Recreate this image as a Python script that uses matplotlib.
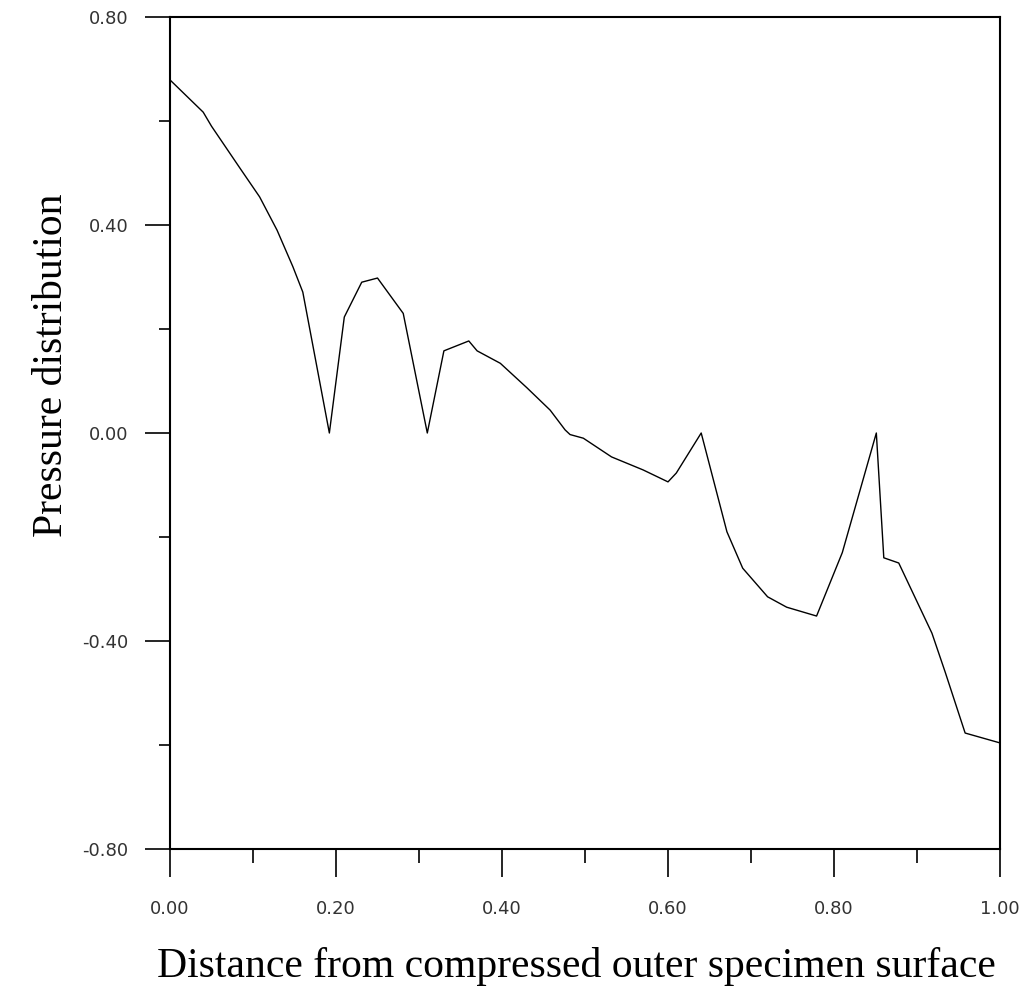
import matplotlib.pyplot as plt
from matplotlib.ticker import MultipleLocator, FuncFormatter

# distance (normalised) and pressure values
distance = [0.0, 0.04, 0.05, 0.084, 0.108, 0.129, 0.148, 0.16, 0.192, 0.21,
            0.231, 0.25, 0.281, 0.31, 0.33, 0.36, 0.37, 0.398, 0.43, 0.458,
            0.476, 0.482, 0.498, 0.532, 0.57, 0.60, 0.61, 0.64, 0.671, 0.69,
            0.72, 0.743, 0.779, 0.81, 0.851, 0.86, 0.878, 0.918, 0.934, 0.958, 1.0]
pressure = [0.679, 0.617, 0.59, 0.51, 0.454, 0.39, 0.32, 0.271, 0.0, 0.223,
            0.29, 0.298, 0.23, 0.0, 0.158, 0.177, 0.158, 0.134, 0.087, 0.044,
            0.006, -0.003, -0.01, -0.046, -0.071, -0.094, -0.077, 0.0, -0.19, -0.26,
            -0.315, -0.335, -0.352, -0.23, 0.0, -0.24, -0.25, -0.385, -0.46, -0.577, -0.596]

x_label = "Distance from compressed outer specimen surface"
y_label = "Pressure distribution"

fig = plt.figure(figsize=(10.28, 9.89), dpi=100, facecolor="w")
ax = fig.add_axes([170 / 1028, 1 - 849 / 989, 830 / 1028, 832 / 989])

ax.plot(distance, pressure, color="black", linewidth=1.0)

ax.set_xlim(0, 1)
ax.set_ylim(-0.8, 0.8)

ax.xaxis.set_major_locator(MultipleLocator(0.2))
ax.xaxis.set_minor_locator(MultipleLocator(0.1))
ax.yaxis.set_major_locator(MultipleLocator(0.4))
ax.yaxis.set_minor_locator(MultipleLocator(0.2))
fmt = FuncFormatter(lambda v, p: f"{v:.2f}")
ax.xaxis.set_major_formatter(fmt)
ax.yaxis.set_major_formatter(fmt)

ax.tick_params(axis="x", which="major", direction="out", length=20, width=1.2, pad=17)
ax.tick_params(axis="x", which="minor", direction="out", length=10, width=1.2)
ax.tick_params(axis="y", which="major", direction="out", length=18, width=1.2, pad=12)
ax.tick_params(axis="y", which="minor", direction="out", length=8, width=1.2)
for lab in ax.get_xticklabels() + ax.get_yticklabels():
    lab.set_fontfamily("DejaVu Sans")
    lab.set_fontsize(13)
    lab.set_color("#333333")

for s in ax.spines.values():
    s.set_linewidth(1.5)

fig.text(576 / 1028, 1 - 966 / 989, x_label, ha="center", va="center",
         family="Liberation Serif", fontsize=30)
fig.text(52 / 1028, 1 - 365 / 989, y_label, ha="center", va="center",
         rotation=90, family="Liberation Serif", fontsize=30)

fig.savefig("out.png", dpi=100, facecolor="w")
